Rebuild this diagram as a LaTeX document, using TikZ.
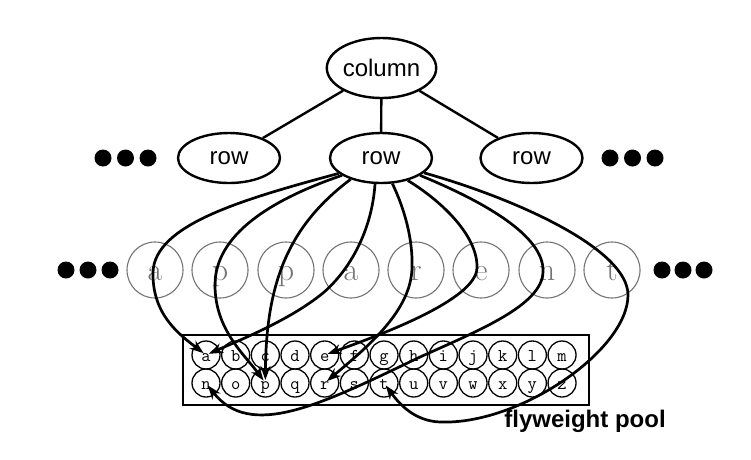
\documentclass[tikz,border=0pt]{standalone}
\usepackage{fontspec}
\newfontfamily\sansf{Liberation Sans}
\usetikzlibrary{shapes.geometric,arrows.meta}
\begin{document}
\begin{tikzpicture}[x=1pt,y=-1pt,
  ell/.style={draw,ellipse,line width=2.4pt,inner sep=0pt,font=\sansf\fontsize{24}{24}\selectfont},
  dot/.style={circle,fill,inner sep=0pt,minimum size=17pt},
  big/.style={circle,draw=black!55,line width=1.1pt,minimum size=56pt,inner sep=0pt,text=black!55,
    font=\fontsize{32}{32}\selectfont,text height=20pt,text depth=0pt},
  small/.style={circle,draw,line width=1.3pt,minimum size=28pt,inner sep=0pt,
    font=\ttfamily\fontsize{18}{18}\selectfont,text height=13pt,text depth=0pt},
  conn/.style={line width=2.7pt,-{Stealth[length=14pt,width=10pt]},shorten >=3pt},
  tree/.style={line width=2.4pt}]
\useasboundingbox (0,0) rectangle (751,459);
% tree
\node[ell,minimum width=101pt,minimum height=60pt] (col) at (381.5,68) {column};
\node[ell,minimum width=102pt,minimum height=50pt] (rowL) at (229,158) {row};
\node[ell,minimum width=102pt,minimum height=50pt] (rowM) at (381,158) {row};
\node[ell,minimum width=102pt,minimum height=50pt] (rowR) at (531.5,158) {row};
\draw[tree] (col) -- (rowL);
\draw[tree] (col) -- (rowM);
\draw[tree] (col) -- (rowR);
\foreach \x [count=\i] in {103,125.5,148} \node[dot] (dl\i) at (\x,158) {};
\foreach \x [count=\i] in {610,632.5,655} \node[dot] (dr\i) at (\x,158) {};
% letter circles
\foreach \c/\x [count=\i] in {a/155,p/220,p/286,a/351,r/416,e/481,n/547,t/612}
  \node[big] (L\i) at (\x,270) {\c};
\foreach \x [count=\i] in {66,88,110} \node[dot] (el\i) at (\x,270) {};
\foreach \x [count=\i] in {662,683,704} \node[dot] (er\i) at (\x,270) {};
% pool
\node[draw,line width=1.4pt,minimum width=406pt,minimum height=70pt,inner sep=0pt] (pool) at (386,370) {};
\foreach \c [count=\i from 0] in {a,b,c,d,e,f,g,h,i,j,k,l,m}
  \node[small] (p\c) at ({206+29.67*\i},355) {\c};
\foreach \c [count=\i from 0] in {n,o,p,q,r,s,t,u,v,w,x,y,z}
  \node[small] (p\c) at ({206+29.67*\i},383) {\c};
\node[font=\sansf\bfseries\fontsize{24}{24}\selectfont] (lbl) at (585,421) {flyweight pool};
% connectors
\draw[conn] (rowM.200) .. controls (240,200) and (155,225) .. (153,272) .. controls (152,315) and (180,335) .. (pa.center);
\draw[conn] (rowM.204) .. controls (270,200) and (215,235) .. (215,285) .. controls (215,330) and (245,355) .. (pp.center);
\draw[conn] (rowM.215) .. controls (290,225) and (266,280) .. (pp.center);
\draw[conn] (rowM.257) .. controls (372,230) and (350,270) .. (323,293) .. controls (290,320) and (240,340) .. (pa.center);
\draw[conn] (rowM.294) .. controls (405,210) and (413,240) .. (412,268) .. controls (411,310) and (370,345) .. (pr.center);
\draw[conn] (rowM.320) .. controls (440,200) and (478,235) .. (477,268) .. controls (476,300) and (380,335) .. (pe.center);
\draw[conn] (rowM.336) .. controls (480,200) and (545,235) .. (543,272) .. controls (542,305) and (480,330) .. (420,357) .. controls (320,405) and (250,440) .. (pn.center);
\draw[conn] (rowM.341) .. controls (520,200) and (628,250) .. (628,295) .. controls (628,350) and (520,425) .. (440,422) .. controls (415,421) and (400,405) .. (pt.center);
\end{tikzpicture}
\end{document}
